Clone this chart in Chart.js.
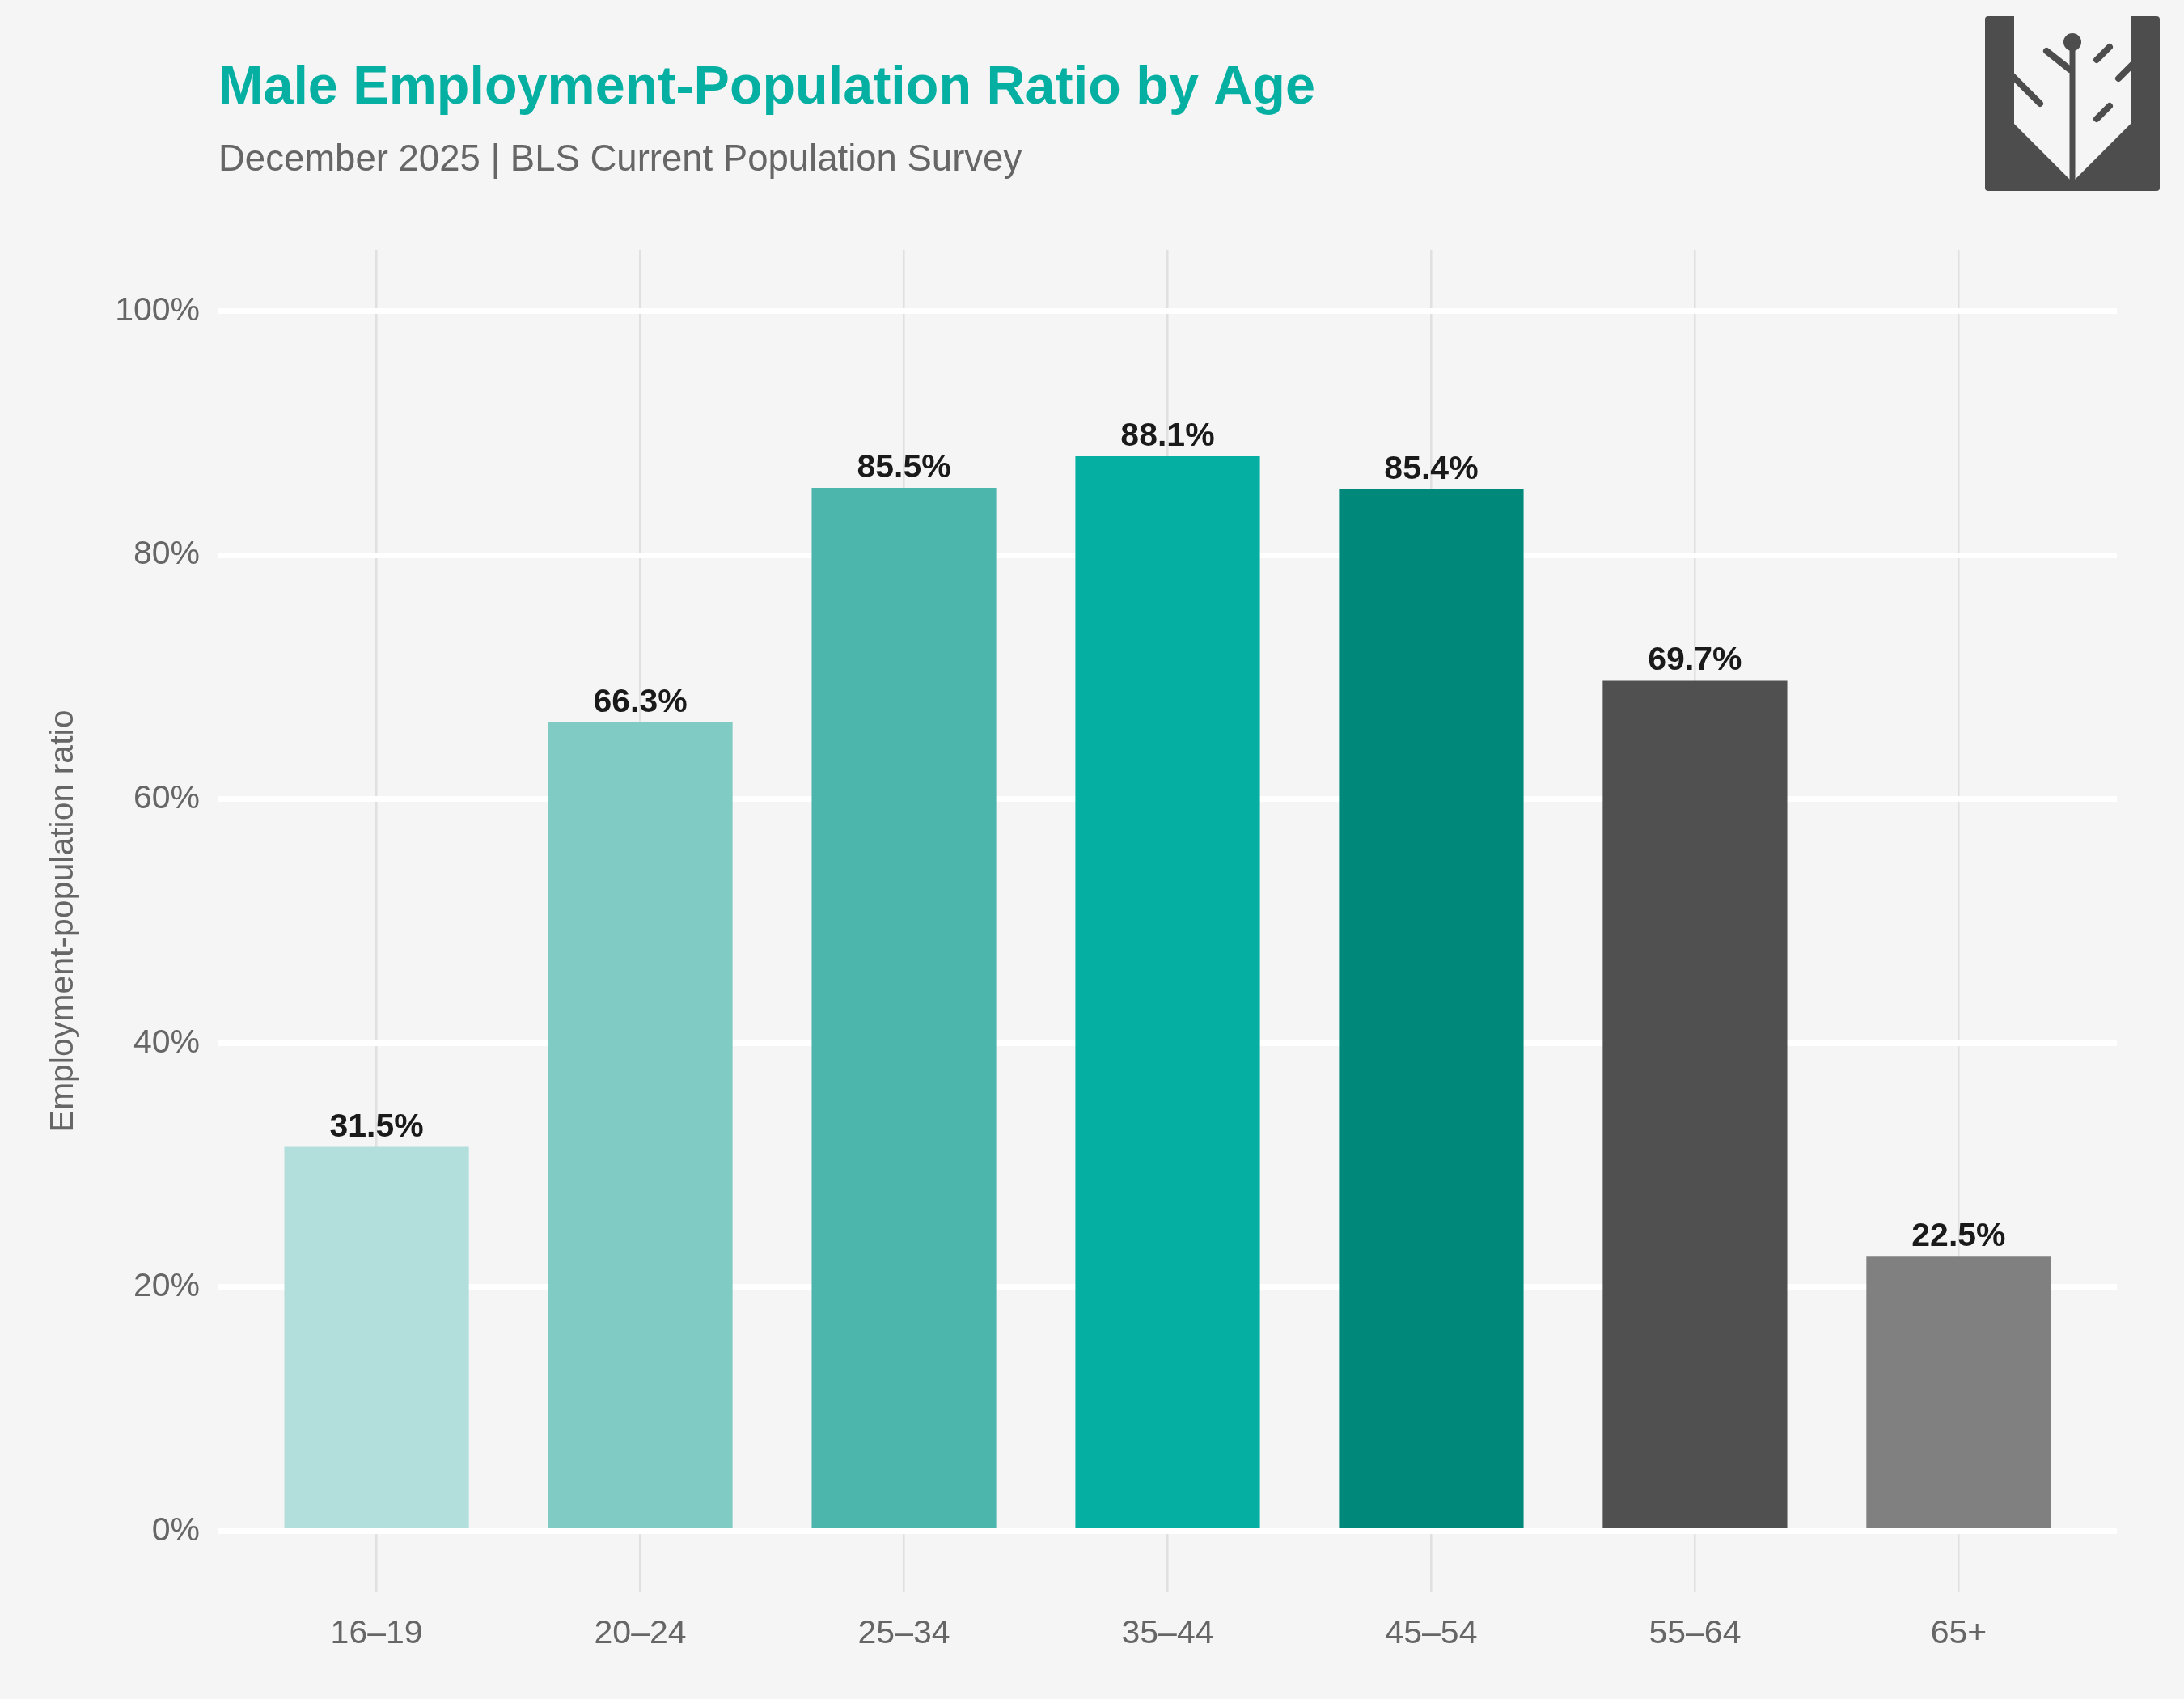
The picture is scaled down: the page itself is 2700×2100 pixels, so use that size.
<!DOCTYPE html>
<html>
<head>
<meta charset="utf-8">
<title>Male Employment-Population Ratio by Age</title>
<script src="https://cdn.jsdelivr.net/npm/chart.js@4.4.1/dist/chart.umd.min.js"></script>
<style>
  html, body { margin: 0; padding: 0; background: #f5f5f5; }
  canvas { display: block; }
</style>
</head>
<body>
<canvas id="chart" width="2700" height="2100"></canvas>
<script>
const ageGroups = ["16–19", "20–24", "25–34", "35–44", "45–54", "55–64", "65+"];
const ratios = [31.5, 66.3, 85.5, 88.1, 85.4, 69.7, 22.5];
const barColors = ["#b2dfdb", "#80cbc4", "#4db6ac", "#05b0a3", "#00897b", "#505050", "#808080"];
const yTicks = [0, 20, 40, 60, 80, 100];

const FONT = "'Liberation Sans', Arial, Helvetica, sans-serif";
Chart.defaults.font.family = FONT;

// value labels above each bar
const barLabels = {
  id: "barLabels",
  afterDatasetsDraw(chart) {
    const ctx = chart.ctx;
    const meta = chart.getDatasetMeta(0);
    ctx.save();
    ctx.font = "bold 41px " + FONT;
    ctx.fillStyle = "#1a1a1a";
    ctx.textAlign = "center";
    ctx.textBaseline = "alphabetic";
    meta.data.forEach((bar, i) => {
      ctx.fillText(ratios[i].toFixed(1) + "%", bar.x, bar.y - 13);
    });
    ctx.restore();
  }
};

// logo in the top right corner
const logo = {
  id: "logo",
  afterDraw(chart) {
    const ctx = chart.ctx;
    ctx.save();
    ctx.fillStyle = "#4d4d4d";
    ctx.beginPath();
    ctx.roundRect(2454, 20, 216, 216, 4);
    ctx.fill();

    ctx.fillStyle = "#f5f5f5";
    ctx.beginPath();
    ctx.moveTo(2490, 20);
    ctx.lineTo(2490, 153);
    ctx.lineTo(2562, 225);
    ctx.lineTo(2634, 153);
    ctx.lineTo(2634, 20);
    ctx.closePath();
    ctx.fill();

    ctx.strokeStyle = "#4d4d4d";
    ctx.fillStyle = "#4d4d4d";
    ctx.lineCap = "round";
    ctx.lineWidth = 7;
    ctx.beginPath();
    ctx.moveTo(2562, 52);
    ctx.lineTo(2562, 226);
    ctx.stroke();
    ctx.beginPath();
    ctx.arc(2562, 52, 11, 0, Math.PI * 2);
    ctx.fill();

    ctx.lineWidth = 8;
    const branches = [
      [2559, 86, 2530, 63],
      [2486, 92, 2522, 128],
      [2592, 74, 2608, 58],
      [2619, 97, 2640, 76],
      [2592, 147, 2608, 131]
    ];
    branches.forEach(b => {
      ctx.beginPath();
      ctx.moveTo(b[0], b[1]);
      ctx.lineTo(b[2], b[3]);
      ctx.stroke();
    });
    ctx.restore();
  }
};

new Chart(document.getElementById("chart"), {
  type: "bar",
  data: {
    datasets: [{
      data: ratios.map((v, i) => ({ x: i + 1, y: v })),
      backgroundColor: barColors,
      borderWidth: 0,
      barPercentage: 0.7,
      categoryPercentage: 1
    }]
  },
  options: {
    responsive: false,
    devicePixelRatio: 1,
    animation: false,
    layout: { padding: { left: 0, right: 83, top: 0, bottom: 0 } },
    plugins: {
      legend: { display: false },
      tooltip: { enabled: false },
      title: {
        display: true,
        text: "Male Employment-Population Ratio by Age",
        align: "start",
        fullSize: false,
        color: "#05b0a3",
        font: { size: 66.5, weight: "bold", lineHeight: 1 },
        padding: { top: 76, bottom: 0 }
      },
      subtitle: {
        display: true,
        text: "December 2025 | BLS Current Population Survey",
        align: "start",
        fullSize: false,
        color: "#666666",
        font: { size: 45.5, lineHeight: 1 },
        padding: { top: 33, bottom: 88 }
      }
    },
    scales: {
      x: {
        type: "linear",
        min: 0.4,
        max: 7.6,
        offset: false,
        afterBuildTicks: axis => {
          axis.ticks = ageGroups.map((_, i) => ({ value: i + 1 }));
        },
        afterFit: axis => { axis.height = 132; },
        ticks: {
          callback: (v, i) => ageGroups[i],
          color: "#666666",
          font: { size: 41 },
          padding: 27,
          autoSkip: false,
          maxRotation: 0
        },
        grid: { offset: false, color: "#e0e0e0", lineWidth: 2.5, drawTicks: false },
        border: { display: false }
      },
      y: {
        min: -5,
        max: 105,
        afterBuildTicks: axis => {
          axis.ticks = yTicks.map(v => ({ value: v }));
        },
        afterFit: axis => { axis.width = 270; },
        ticks: {
          callback: v => v + "%",
          color: "#666666",
          font: { size: 41 },
          padding: 23
        },
        grid: { color: "#ffffff", lineWidth: 7, drawTicks: false },
        border: { display: false },
        title: {
          display: true,
          text: "Employment-population ratio",
          color: "#666666",
          font: { size: 41, lineHeight: 1 },
          padding: { top: 58, bottom: 0 }
        }
      }
    }
  },
  plugins: [barLabels, logo]
});
</script>
</body>
</html>
